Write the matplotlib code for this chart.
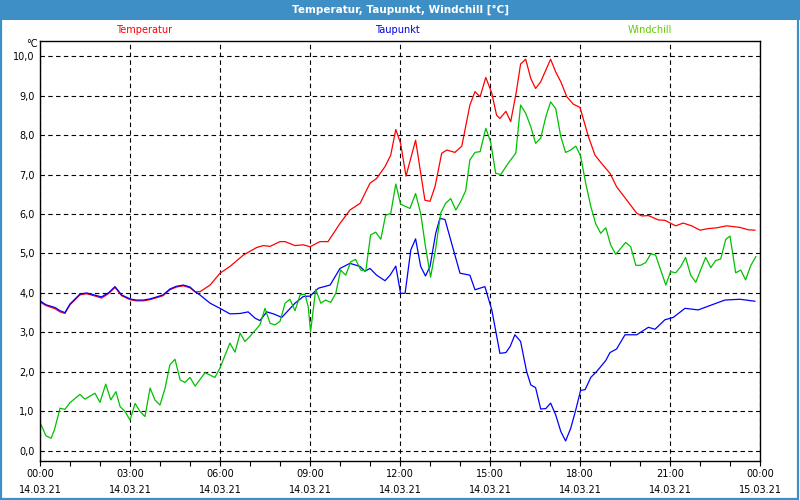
import matplotlib
matplotlib.use('Agg')
import matplotlib.pyplot as plt
from matplotlib.patches import Rectangle

# Stunden seit 14.03.21 00:00, Werte in °C
temp_h = [0.0, 0.2, 0.5, 0.67, 0.83, 1.0, 1.33, 1.55, 1.8, 2.05, 2.28, 2.5, 2.72,
          3.0, 3.2, 3.45, 3.67, 3.89, 4.1, 4.33, 4.55, 4.78, 5.0, 5.17, 5.33, 5.67,
          6.0, 6.33, 6.78, 7.22, 7.44, 7.67, 8.0, 8.17, 8.5, 8.78, 9.0, 9.33, 9.6,
          10.0, 10.33, 10.67, 11.0, 11.22, 11.5, 11.69, 11.86, 12.02, 12.2, 12.52,
          12.83, 13.0, 13.17, 13.39, 13.56, 13.83, 14.06, 14.33, 14.5, 14.67, 14.86,
          15.06, 15.22, 15.33, 15.53, 15.69, 15.87, 16.02, 16.19, 16.36, 16.52,
          16.69, 17.02, 17.19, 17.36, 17.56, 17.78, 18.0, 18.28, 18.5, 18.72, 19.0,
          19.22, 19.56, 19.89, 20.06, 20.28, 20.61, 20.83, 21.19, 21.44, 21.72,
          22.0, 22.28, 22.56, 22.89, 23.33, 23.61, 23.83]
temp = [3.77, 3.68, 3.6, 3.52, 3.48, 3.7, 3.95, 3.98, 3.93, 3.87, 3.98, 4.14, 3.93,
        3.83, 3.8, 3.8, 3.83, 3.88, 3.93, 4.08, 4.15, 4.18, 4.13, 4.03, 4.03, 4.2,
        4.5, 4.67, 4.96, 5.15, 5.2, 5.18, 5.3, 5.3, 5.2, 5.22, 5.17, 5.3, 5.3,
        5.76, 6.1, 6.27, 6.78, 6.9, 7.2, 7.49, 8.14, 7.79, 6.96, 7.87,
        6.35, 6.32, 6.7, 7.54, 7.62, 7.56, 7.72, 8.76, 9.1, 8.97, 9.46,
        9.06, 8.5, 8.42, 8.6, 8.34, 9.06, 9.8, 9.92, 9.43, 9.18,
        9.35, 9.92, 9.6, 9.35, 8.97, 8.78, 8.7, 7.96, 7.49, 7.28, 7.03,
        6.69, 6.35, 6.02, 5.95, 5.96, 5.85, 5.84, 5.7, 5.77, 5.7,
        5.59, 5.63, 5.65, 5.7, 5.66, 5.6, 5.59]

dew_h = [0.0, 0.2, 0.5, 0.67, 0.83, 1.0, 1.33, 1.55, 1.8, 2.05, 2.28, 2.5, 2.72,
         3.0, 3.2, 3.45, 3.67, 3.89, 4.1, 4.33, 4.55, 4.78, 5.0, 5.17, 5.33, 5.67,
         6.0, 6.33, 6.67, 6.94, 7.17, 7.33, 7.56, 7.78, 8.06, 8.5, 8.78, 9.0, 9.28,
         9.67, 10.0, 10.33, 10.67, 10.83, 11.0, 11.22, 11.5, 11.67, 11.86, 12.02,
         12.17, 12.36, 12.52, 12.69, 12.85, 13.0, 13.19, 13.33, 13.5, 13.72, 14.0,
         14.33, 14.5, 14.83, 15.06, 15.33, 15.53, 15.67, 15.83, 16.02, 16.22, 16.36,
         16.52, 16.69, 16.86, 17.02, 17.19, 17.36, 17.52, 17.69, 17.86, 18.02,
         18.17, 18.36, 18.58, 18.86, 19.0, 19.22, 19.5, 19.89, 20.28, 20.5, 20.83,
         21.11, 21.5, 21.94, 22.33, 22.83, 23.33, 23.83]
dew = [3.8, 3.7, 3.63, 3.55, 3.5, 3.72, 3.97, 4.0, 3.95, 3.9, 4.0, 4.16, 3.95,
       3.85, 3.82, 3.82, 3.85, 3.9, 3.95, 4.1, 4.17, 4.2, 4.15, 4.03, 3.95, 3.74,
       3.61, 3.47, 3.48, 3.52, 3.36, 3.3, 3.52, 3.47, 3.38, 3.74, 3.91, 3.92, 4.12,
       4.2, 4.62, 4.75, 4.67, 4.55, 4.62, 4.45, 4.31, 4.45, 4.68, 3.99,
       3.99, 5.09, 5.37, 4.67, 4.43, 4.67, 5.51, 5.89, 5.86, 5.26, 4.5,
       4.45, 4.08, 4.16, 3.57, 2.47, 2.49, 2.64, 2.94, 2.77, 2.01, 1.67,
       1.6, 1.06, 1.07, 1.21, 0.91, 0.49, 0.25, 0.57, 1.04, 1.53,
       1.55, 1.86, 2.03, 2.29, 2.49, 2.58, 2.94, 2.94, 3.13, 3.08, 3.32,
       3.38, 3.61, 3.57, 3.68, 3.82, 3.84, 3.79]

wind_h = [0.0, 0.2, 0.37, 0.48, 0.67, 0.83, 1.0, 1.33, 1.5, 1.83, 2.0, 2.19, 2.36,
          2.53, 2.67, 2.83, 3.0, 3.17, 3.33, 3.5, 3.67, 3.83, 4.0, 4.17, 4.33, 4.5,
          4.67, 4.83, 5.0, 5.17, 5.5, 5.83, 6.0, 6.33, 6.5, 6.67, 6.83, 7.0, 7.33,
          7.5, 7.67, 7.83, 8.0, 8.17, 8.33, 8.5, 8.67, 8.83, 8.94, 9.02, 9.19, 9.36,
          9.52, 9.69, 9.86, 10.02, 10.19, 10.36, 10.52, 10.69, 10.86, 11.02, 11.19,
          11.36, 11.52, 11.69, 11.86, 12.02, 12.33, 12.52, 12.69, 12.85, 13.02,
          13.19, 13.36, 13.52, 13.69, 13.86, 14.02, 14.19, 14.33, 14.5, 14.67,
          14.86, 15.02, 15.19, 15.36, 15.53, 15.69, 15.86, 16.02, 16.19, 16.36,
          16.52, 16.69, 16.86, 17.02, 17.19, 17.36, 17.52, 17.69, 17.86, 18.02,
          18.19, 18.36, 18.52, 18.69, 18.86, 19.02, 19.19, 19.36, 19.52, 19.69,
          19.86, 20.02, 20.19, 20.36, 20.52, 20.69, 20.86, 21.02, 21.19, 21.36,
          21.52, 21.69, 21.86, 22.02, 22.19, 22.36, 22.52, 22.69, 22.86, 23.0,
          23.19, 23.36, 23.52, 23.69, 23.86]
wind = [0.72, 0.38, 0.32, 0.53, 1.08, 1.05, 1.22, 1.43, 1.31, 1.46, 1.23, 1.69, 1.29,
        1.5, 1.12, 1.0, 0.78, 1.2, 1.0, 0.87, 1.59, 1.29, 1.16, 1.59, 2.18, 2.32,
        1.8, 1.73, 1.86, 1.64, 1.98, 1.86, 2.1, 2.73, 2.5, 2.98, 2.77, 2.9, 3.19,
        3.61, 3.23, 3.19, 3.28, 3.74, 3.84, 3.55, 3.95, 3.97, 3.65, 3.02, 4.09, 3.74,
        3.82, 3.76, 3.99, 4.58, 4.45, 4.79, 4.85, 4.58, 4.56, 5.47, 5.54,
        5.36, 5.97, 6.01, 6.76, 6.25, 6.14, 6.52, 6.01, 5.17, 4.4,
        5.13, 6.03, 6.27, 6.39, 6.1, 6.31, 6.59, 7.37, 7.56, 7.58,
        8.17, 7.83, 7.03, 7.0, 7.2, 7.37, 7.54, 8.76, 8.55, 8.21,
        7.79, 7.92, 8.46, 8.84, 8.67, 7.96, 7.56, 7.62, 7.72, 7.47,
        6.78, 6.19, 5.76, 5.51, 5.65, 5.22, 4.98, 5.13, 5.28, 5.17,
        4.7, 4.7, 4.77, 4.99, 4.96, 4.58, 4.2, 4.54, 4.51, 4.67,
        4.9, 4.45, 4.27, 4.58, 4.9, 4.64, 4.82, 4.86, 5.36, 5.44,
        4.51, 4.58, 4.33, 4.69, 4.92]

xticks = [0, 3, 6, 9, 12, 15, 18, 21, 24]
xlabels = ['00:00\n14.03.21', '03:00\n14.03.21', '06:00\n14.03.21', '09:00\n14.03.21',
           '12:00\n14.03.21', '15:00\n14.03.21', '18:00\n14.03.21', '21:00\n14.03.21',
           '00:00\n15.03.21']
yticks = [0, 1, 2, 3, 4, 5, 6, 7, 8, 9, 10]

plt.rcParams['font.family'] = ['DejaVu Sans']
fig = plt.figure(figsize=(8, 5), dpi=100)
fig.patch.set_facecolor('white')

# Titelleiste und Rahmen
fig.patches.append(Rectangle((0, 0.96), 1, 0.04, transform=fig.transFigure,
                             facecolor='#3d8fc6', edgecolor='none', zorder=0))
fig.patches.append(Rectangle((0.001, 0.002), 0.997, 0.996, transform=fig.transFigure,
                             facecolor='none', edgecolor='#3d8fc6', lw=1.6, zorder=0))
fig.text(0.5, 0.98, 'Temperatur, Taupunkt, Windchill [°C]', color='white',
         ha='center', va='center', fontsize=7.5, fontweight='bold')
fig.text(144 / 800, 1 - 30 / 500, 'Temperatur', color='#ff0000', ha='center', va='center', fontsize=7)
fig.text(397 / 800, 1 - 30 / 500, 'Taupunkt', color='#0000e0', ha='center', va='center', fontsize=7)
fig.text(650 / 800, 1 - 30 / 500, 'Windchill', color='#66cc00', ha='center', va='center', fontsize=7)
fig.text(32 / 800, 1 - 44 / 500, '°C', ha='center', va='center', fontsize=7)

ax = fig.add_axes([0.05, 0.0786, 0.9, 0.84])
ax.plot(temp_h, temp, color='#ff0000', lw=0.9)
ax.plot(dew_h, dew, color='#0000ff', lw=0.9)
ax.plot(wind_h, wind, color='#00c000', lw=0.9)

ax.set_xlim(0, 24)
ax.set_ylim(-0.25, 10.39)
ax.set_xticks(xticks)
ax.set_xticklabels(xlabels, fontsize=7, linespacing=1.75)
ax.set_xticks(range(25), minor=True)
ax.set_yticks(yticks)
ax.set_yticklabels([('%.1f' % v).replace('.', ',') for v in yticks], fontsize=7)
ax.tick_params(axis='y', length=0, pad=4)
ax.tick_params(axis='x', which='both', direction='out', length=3.5, width=0.8, pad=2.5)
ax.grid(True, which='major', color='black', ls=(0, (4, 3)), lw=0.8)
for s in ax.spines.values():
    s.set_linewidth(1.0)

fig.savefig('out.png', dpi=100)
